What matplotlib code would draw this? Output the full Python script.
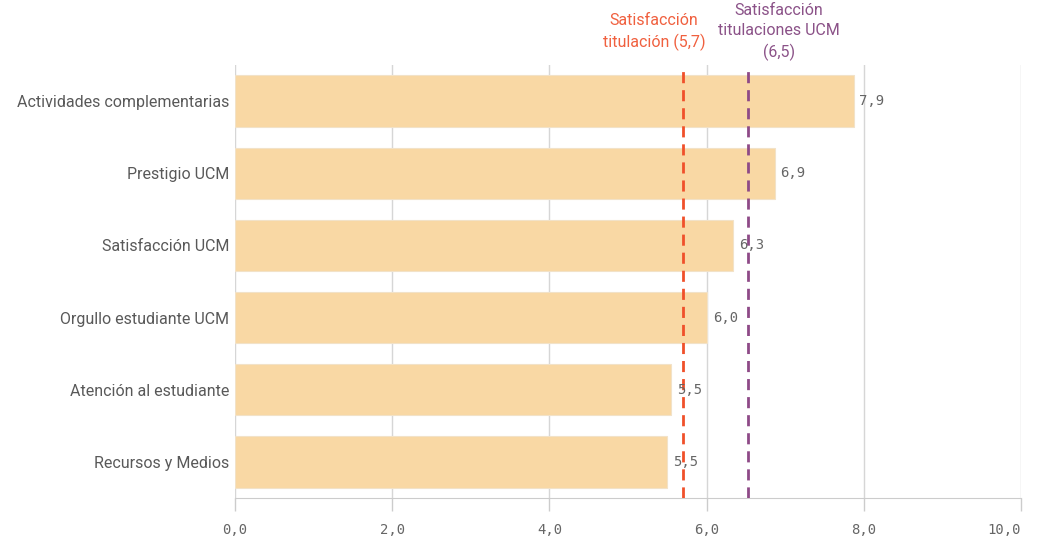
import matplotlib.pyplot as plt
import matplotlib.transforms as mtransforms

# datos
categorias = ["Actividades complementarias", "Prestigio UCM", "Satisfacción UCM",
              "Orgullo estudiante UCM", "Atención al estudiante", "Recursos y Medios"]
valores = [7.87, 6.87, 6.34, 6.01, 5.55, 5.50]
etiquetas = ["7,9", "6,9", "6,3", "6,0", "5,5", "5,5"]
ref_titulacion = 5.7
ref_ucm = 6.53
ticks = [0, 2, 4, 6, 8, 10]
tick_labels = ["0,0", "2,0", "4,0", "6,0", "8,0", "10,0"]

fig = plt.figure(figsize=(10.44, 5.44), dpi=100)
ax = fig.add_axes([0.2251, 0.0846, 0.7529, 0.7959])

y = list(range(len(categorias)))
ax.barh(y, valores, height=0.71, color="#F9D8A4", edgecolor="#F2E2C8", linewidth=0.8, zorder=2)

for yi, v, lab in zip(y, valores, etiquetas):
    ax.text(v + 0.07, yi, lab, va="center", ha="left", fontsize=10,
            family="DejaVu Sans Mono", color="#666666", zorder=4)

ax.axvline(ref_titulacion, color="#F0502A", lw=2, ls=(0, (4, 2.5)), zorder=3)
ax.axvline(ref_ucm, color="#8E4A87", lw=2, ls=(0, (4, 2.5)), zorder=3)

trans = mtransforms.blended_transform_factory(ax.transData, ax.transAxes)
ax.text(5.33, 1.076, "Satisfacción\ntitulación (5,7)", transform=trans, ha="center", va="center",
        fontsize=11.5, family="Roboto", color="#F0603F", linespacing=1.4)
ax.text(6.92, 1.076, "Satisfacción\ntitulaciones UCM\n(6,5)", transform=trans, ha="center", va="center",
        fontsize=11.5, family="Roboto", color="#8B5288", linespacing=1.4)

ax.set_xlim(0, 10)
ax.set_ylim(len(categorias) - 0.5, -0.5)
ax.set_yticks(y)
ax.set_yticklabels(categorias, fontsize=11.5, family="Roboto", color="#595959")
ax.tick_params(axis="y", length=0, pad=4)
ax.set_xticks(ticks)
ax.set_xticklabels(tick_labels, fontsize=10, family="DejaVu Sans Mono", color="#666666")
ax.tick_params(axis="x", length=9, color="#cccccc", width=1, pad=9)
ax.get_xticklabels()[-1].set_horizontalalignment("right")

ax.grid(axis="x", color="#d6d6d6", lw=1, zorder=0)
for s in ["top", "right", "left"]:
    ax.spines[s].set_visible(False)
ax.spines["bottom"].set_color("#cccccc")

fig.savefig("out.png", dpi=100)
